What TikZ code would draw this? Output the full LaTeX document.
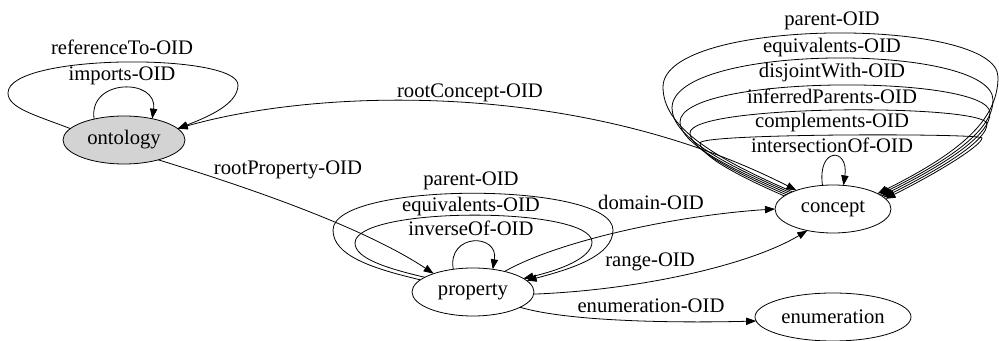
\documentclass[tikz,border=0pt]{standalone}
\usepackage{fontspec}
\setmainfont{Liberation Serif}
\usetikzlibrary{arrows.meta,shapes.geometric}
\definecolor{lgray}{RGB}{211,211,211}
\begin{document}
\begin{tikzpicture}[x=0.75pt,y=-0.75pt,
  nodebox/.style={ellipse, draw, line width=0.6pt, inner sep=0pt, outer sep=0pt,
    minimum height=36pt, font=\fontsize{15.5}{18}\selectfont},
  lbl/.style={inner sep=0pt, font=\fontsize{15.5}{18}\selectfont, text height=10.5pt, text depth=3pt},
  conn/.style={draw, line width=0.6pt, -{Triangle[length=7.5pt,width=5.5pt]}},
  conntwo/.style={draw, line width=0.6pt, {Triangle[length=7.5pt,width=5.5pt]}-{Triangle[length=7.5pt,width=5.5pt]}}
]
\useasboundingbox (0,0) rectangle (999,341);

% nodes
\node[nodebox, fill=lgray, minimum width=91.5pt] (ontology) at (124,140) {\makebox[0pt]{ontology}};
\node[nodebox, minimum width=91.5pt] (property) at (473,292) {\makebox[0pt]{property}};
\node[nodebox, minimum width=87pt] (concept) at (833,209) {\makebox[0pt]{concept}};
\node[nodebox, minimum width=117pt] (enumeration) at (833,317) {\makebox[0pt]{enumeration}};

% ontology loops
\draw[conn] (ontology.145) .. controls (88,78) and (158,78) .. (ontology.37);
\draw[conn] (ontology.168) .. controls (35,115) and (8,108) .. (8,93)
  .. controls (8,53) and (238,53) .. (238,85)
  .. controls (238,105) and (205,118) .. (ontology.12);
\node[lbl] (lblref) at (122,50) {referenceTo-OID};
\node[lbl] (lblimp) at (122,76) {imports-OID};

% rootConcept / rootProperty
\draw[conntwo] (concept.153) .. controls (580,80) and (320,88) .. (ontology.12);
\node[lbl] (lblrc) at (470,93) {rootConcept-OID};
\draw[conn] (ontology.-30) .. controls (240,185) and (360,225) .. (property.155);
\node[lbl] (lblrp) at (288,170) {rootProperty-OID};

% property loops
\draw[conn] (property.167) .. controls (370,268) and (333,255) .. (333,230)
  .. controls (333,181) and (613,181) .. (613,230)
  .. controls (613,255) and (575,268) .. (property.12);
\draw[conn] (property.163) .. controls (385,268) and (355,258) .. (355,243)
  .. controls (355,206) and (592,206) .. (592,242)
  .. controls (592,258) and (560,270) .. (property.15);
\draw[conn] (property.131) .. controls (447,233) and (499,233) .. (property.49);
\node[lbl] (lblpp) at (471,181) {parent-OID};
\node[lbl] (lblpe) at (471,207) {equivalents-OID};
\node[lbl] (lblpi) at (471,231) {inverseOf-OID};

% property to concept / enumeration
\draw[conn] (property.33) .. controls (560,240) and (680,215) .. (concept.180);
\node[lbl] (lbldom) at (651,205) {domain-OID};
\draw[conn] (property.-2) .. controls (640,290) and (750,265) .. (concept.-140);
\node[lbl] (lblrange) at (650,262) {range-OID};
\draw[conn] (property.-18) .. controls (570,322) and (680,323) .. (enumeration.183);
\node[lbl] (lblenum) at (651,308) {enumeration-OID};

% concept loops
\draw[conn] (concept.157) .. controls (708.5,155.7) and (663,125) .. (663,87)
  .. controls (663,16.7) and (998,16.7) .. (998,77)
  .. controls (998,121) and (959,152.8) .. (concept.19);
\draw[conn] (concept.159) .. controls (717.5,161.4) and (672,135) .. (672,108)
  .. controls (672,42.7) and (993,42.7) .. (993,100)
  .. controls (993,130) and (951.3,158.8) .. (concept.17);
\draw[conn] (concept.161) .. controls (723,165.6) and (680,142) .. (680,122)
  .. controls (680,74.2) and (990,74.2) .. (990,113)
  .. controls (990,135) and (948,162.6) .. (concept.15);
\draw[conn] (concept.163) .. controls (729,170) and (690,148) .. (690,133)
  .. controls (690,103.8) and (987,103.8) .. (987,124)
  .. controls (987,140) and (945.7,166.1) .. (concept.13);
\draw[conn] (concept.165) .. controls (734.5,174.3) and (700,155) .. (700,143)
  .. controls (700,133.2) and (982,133.2) .. (982,138)
  .. controls (982,145) and (941.4,170.7) .. (concept.11);
\draw[conn] (concept.114) .. controls (817,147) and (849,147) .. (concept.66);
\node[lbl] (lblcp) at (832,21) {parent-OID};
\node[lbl] (lblce) at (832,48) {equivalents-OID};
\node[lbl] (lblcd) at (832,73) {disjointWith-OID};
\node[lbl] (lblci) at (832,99) {inferredParents-OID};
\node[lbl] (lblcc) at (832,123) {complements-OID};
\node[lbl] (lblcx) at (832,148) {intersectionOf-OID};
\end{tikzpicture}
\end{document}
